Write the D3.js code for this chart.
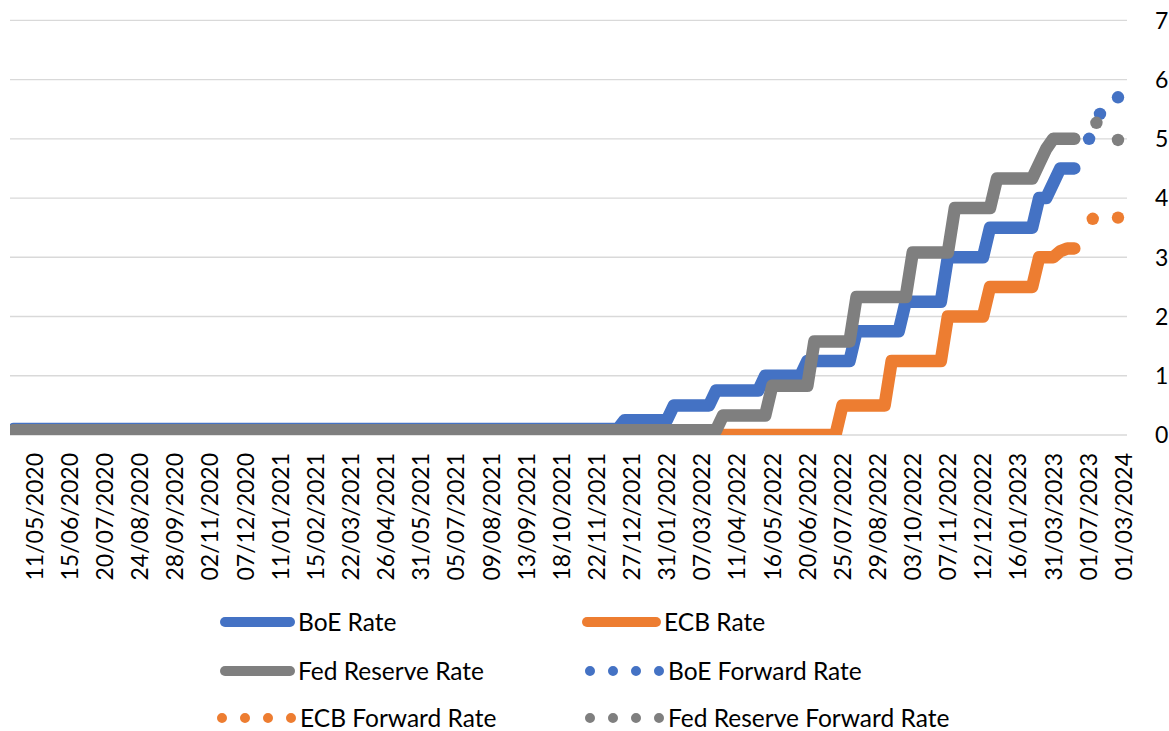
<!DOCTYPE html>
<html><head><meta charset="utf-8">
<script src="https://cdn.jsdelivr.net/npm/d3@7"></script>
<style>
body{margin:0;background:#fff}
svg{display:block}
text{font-family:Lato,'Open Sans',sans-serif;fill:#000}
</style>
</head><body>
<svg id="chart" width="1169" height="731"></svg>
<script>
// ---------------- DATA ----------------
// weekly (Monday) categories from 20/04/2020, then irregular late dates
const weeklyStart = new Date(2020, 3, 20);
const weeklyCount = 148;
const lateCategories = ["31/03/2023","15/05/2023","31/05/2023","15/06/2023","22/06/2023",
  "01/07/2023","01/08/2023","01/09/2023","01/10/2023","01/12/2023","01/03/2024"];

// tick labels shown on the axis
const tickLabels = ["11/05/2020","15/06/2020","20/07/2020","24/08/2020","28/09/2020","02/11/2020",
  "07/12/2020","11/01/2021","15/02/2021","22/03/2021","26/04/2021","31/05/2021","05/07/2021",
  "09/08/2021","13/09/2021","18/10/2021","22/11/2021","27/12/2021","31/01/2022","07/03/2022",
  "11/04/2022","16/05/2022","20/06/2022","25/07/2022","29/08/2022","03/10/2022","07/11/2022",
  "12/12/2022","16/01/2023","31/03/2023","01/07/2023","01/03/2024"];

// series as [value, number of consecutive weekly points]
const boeRateRuns = [[0.1,87],[0.25,7],[0.5,6],[0.75,7],[1.0,6],[1.25,7],[1.75,7],[2.25,6],
  [3.0,6],[3.5,7],[4.0,2],[4.25,1],[4.5,3]];
const ecbRateRuns = [[0,118],[0.5,7],[1.25,8],[2.0,6],[2.5,7],[3.0,3],[3.1,1],[3.15,2]];
const fedRateRuns = [[0.08,101],[0.33,7],[0.83,6],[1.58,6],[2.33,8],[3.08,6],[3.83,6],
  [4.33,6],[4.58,1],[4.83,1],[5.0,4]];

// forward rates (secondary date axis)
const boeForwardDates = ["01/07/2023","01/10/2023","01/03/2024"];
const boeForward = [5.0, 5.42, 5.7];
const ecbForwardDates = ["01/08/2023","01/03/2024"];
const ecbForward = [3.65, 3.67];
const fedForwardDates = ["01/09/2023","01/03/2024"];
const fedForward = [5.27, 4.98];

const yTicks = [0,1,2,3,4,5,6,7];

// ---------------- SETUP ----------------
const fmt = d3.timeFormat("%d/%m/%Y");
const parse = d3.timeParse("%d/%m/%Y");
const categories = d3.range(weeklyCount).map(k => fmt(d3.timeDay.offset(weeklyStart, 7*k)))
  .concat(lateCategories);

function expand(runs){
  const out = [];
  runs.forEach(([v,n]) => { for(let i=0;i<n;i++) out.push(v); });
  return out;
}
const boeRate = expand(boeRateRuns);
const ecbRate = expand(ecbRateRuns);
const fedRate = expand(fedRateRuns);

const W = 1169, H = 731;
const plot = {left:10, right:1127, top:20.3, bottom:435};
const colors = {boe:"#4472C4", ecb:"#ED7D31", fed:"#7F7F7F"};

const svg = d3.select("#chart");
svg.append("rect").attr("width",W).attr("height",H).attr("fill","#fff");

const x = d3.scaleBand().domain(categories).range([plot.left, plot.right]).padding(0);
const xc = c => x(c) + x.bandwidth()/2;
const y = d3.scaleLinear().domain([0,7]).range([plot.bottom, plot.top]);
const xFwd = d3.scaleTime().domain([new Date(1998,6,25), new Date(2024,4,16)])
  .range([plot.left, plot.right]);

// gridlines
svg.append("g").selectAll("line").data(yTicks).join("line")
  .attr("x1",plot.left).attr("x2",plot.right)
  .attr("y1",d=>y(d)).attr("y2",d=>y(d))
  .attr("stroke","#d9d9d9").attr("stroke-width",1.3);

// right axis labels
svg.append("g").selectAll("text").data(yTicks).join("text")
  .attr("x",1155).attr("y",d=>y(d)).attr("dy","0.36em")
  .attr("font-size",23).text(d=>d);

// x axis labels
const xAxis = d3.axisBottom(x).tickValues(tickLabels).tickSize(0).tickPadding(0);
const gx = svg.append("g").attr("transform",`translate(0,${plot.bottom})`).call(xAxis);
gx.select(".domain").remove();
gx.selectAll("text")
  .attr("transform","rotate(-90)")
  .attr("x",-18).attr("y",0).attr("dy","0.36em")
  .attr("text-anchor","end")
  .attr("font-size",23)
  .attr("fill","#000")
  .style("font-family","Lato,'Open Sans',sans-serif");

// clip
svg.append("clipPath").attr("id","clip").append("rect")
  .attr("x",plot.left).attr("y",plot.top)
  .attr("width",plot.right-plot.left).attr("height",plot.bottom-plot.top);

const line = d3.line().x((d,i)=>xc(categories[i])).y(d=>y(d));
const g = svg.append("g").attr("clip-path","url(#clip)");
[[boeRate,colors.boe],[ecbRate,colors.ecb],[fedRate,colors.fed]].forEach(([data,col])=>{
  g.append("path").datum(data).attr("d",line)
    .attr("fill","none").attr("stroke",col).attr("stroke-width",12.5)
    .attr("stroke-linejoin","round").attr("stroke-linecap","round");
});

// forward dots
[[boeForwardDates,boeForward,colors.boe],[ecbForwardDates,ecbForward,colors.ecb],
 [fedForwardDates,fedForward,colors.fed]].forEach(([dates,vals,col])=>{
  svg.append("g").selectAll("circle").data(vals).join("circle")
    .attr("cx",(d,i)=>xFwd(parse(dates[i]))).attr("cy",d=>y(d))
    .attr("r",6.2).attr("fill",col);
});

// legend
const legendItems = [
  {name:"BoE Rate", col:colors.boe, type:"line", lx:220, tx:298, ly:622},
  {name:"ECB Rate", col:colors.ecb, type:"line", lx:582, tx:664, ly:622},
  {name:"Fed Reserve Rate", col:colors.fed, type:"line", lx:220, tx:298, ly:671},
  {name:"BoE Forward Rate", col:colors.boe, type:"dot", lx:590, tx:668, ly:671},
  {name:"ECB Forward Rate", col:colors.ecb, type:"dot", lx:222, tx:300, ly:718},
  {name:"Fed Reserve Forward Rate", col:colors.fed, type:"dot", lx:590, tx:668, ly:718}
];
const lg = svg.append("g");
legendItems.forEach(it=>{
  if(it.type==="line"){
    lg.append("line").attr("x1",it.lx+5).attr("x2",it.tx-8)
      .attr("y1",it.ly).attr("y2",it.ly)
      .attr("stroke",it.col).attr("stroke-width",10).attr("stroke-linecap","round");
  } else {
    lg.append("line").attr("x1",it.lx).attr("x2",it.lx+69.5)
      .attr("y1",it.ly).attr("y2",it.ly)
      .attr("stroke",it.col).attr("stroke-width",10).attr("stroke-linecap","round")
      .attr("stroke-dasharray","0,23");
  }
  lg.append("text").attr("x",it.tx).attr("y",it.ly).attr("dy","0.36em")
    .attr("font-size",24.5).text(it.name);
});
</script>
</body></html>
